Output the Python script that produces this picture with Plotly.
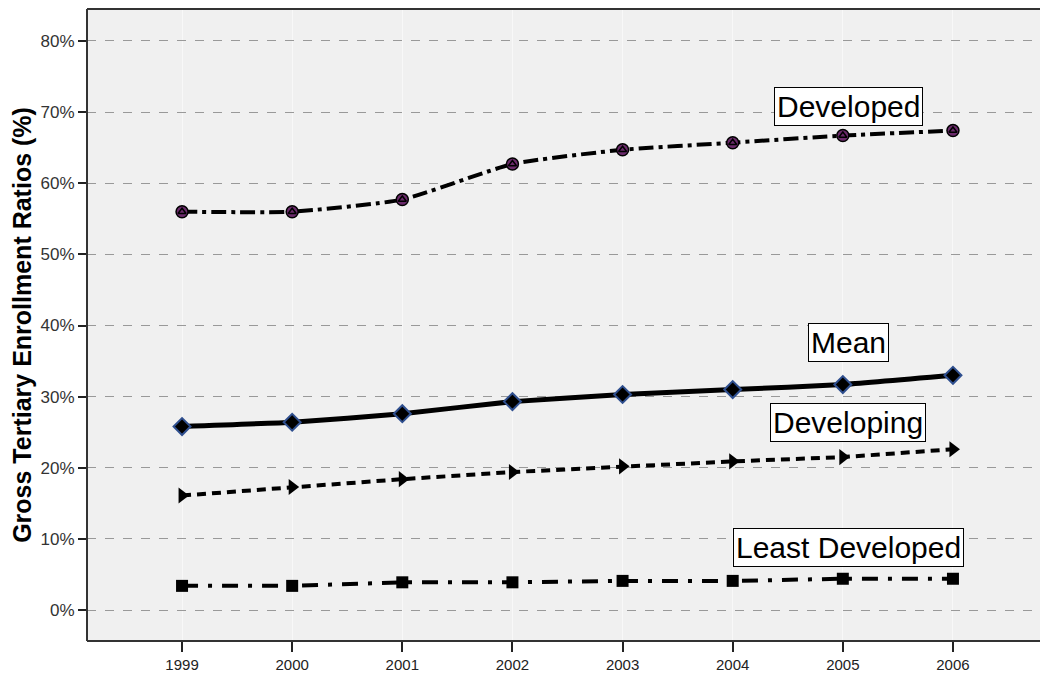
import plotly.graph_objects as go

years = [1999, 2000, 2001, 2002, 2003, 2004, 2005, 2006]
developed = [56.0, 56.0, 57.7, 62.7, 64.7, 65.7, 66.7, 67.4]
mean = [25.8, 26.4, 27.6, 29.3, 30.3, 31.0, 31.7, 33.0]
developing = [16.1, 17.3, 18.4, 19.4, 20.2, 20.9, 21.5, 22.6]
least_developed = [3.4, 3.4, 3.9, 3.9, 4.1, 4.1, 4.4, 4.4]

y_ticks = [0, 10, 20, 30, 40, 50, 60, 70, 80]
y_tick_labels = [f"{v}%" for v in y_ticks]

labels = ["Developed", "Mean", "Developing", "Least Developed"]
label_x = [2005.05, 2005.05, 2005.05, 2005.05]
label_y = [70.8, 37.6, 26.3, 8.8]

fig = go.Figure()

fig.add_trace(go.Scatter(
    x=years, y=developed, mode="lines+markers",
    line=dict(color="black", width=4, dash="15px,5px,4px,5px", shape="spline", smoothing=0.5),
    marker=dict(symbol="circle", size=12, color="#6b2a6b", line=dict(color="black", width=1.5)),
    showlegend=False))
fig.add_trace(go.Scatter(
    x=years, y=developed, mode="markers",
    marker=dict(symbol="triangle-up-open", size=7, color="black", line=dict(color="black", width=1.5)),
    showlegend=False))

fig.add_trace(go.Scatter(
    x=years, y=mean, mode="lines+markers",
    line=dict(color="black", width=5, shape="spline", smoothing=0.4),
    marker=dict(symbol="diamond", size=13, color="black", line=dict(color="#2f4f8f", width=2)),
    showlegend=False))

fig.add_trace(go.Scatter(
    x=years, y=developing, mode="lines+markers",
    line=dict(color="black", width=4, dash="9px,6px"),
    marker=dict(symbol="triangle-right", size=14, color="black"),
    showlegend=False))

fig.add_trace(go.Scatter(
    x=years, y=least_developed, mode="lines+markers",
    line=dict(color="black", width=4, dash="16px,10px,4px,10px"),
    marker=dict(symbol="square", size=12, color="black"),
    showlegend=False))

for t, xv, yv in zip(labels, label_x, label_y):
    fig.add_annotation(
        x=xv, y=yv, text=t, showarrow=False,
        font=dict(family="Liberation Sans, Arial", size=30, color="black"),
        bgcolor="white", bordercolor="black", borderwidth=1, borderpad=2)

# frame (left, top, bottom)
fig.add_shape(type="line", xref="paper", yref="paper", x0=0, x1=0, y0=0, y1=1,
              line=dict(color="#333333", width=2))
fig.add_shape(type="line", xref="paper", yref="paper", x0=0, x1=1, y0=1, y1=1,
              line=dict(color="#333333", width=2))
fig.add_shape(type="line", xref="paper", yref="paper", x0=0, x1=1, y0=0, y1=0,
              line=dict(color="#333333", width=2))

fig.update_layout(
    width=1040, height=669,
    margin=dict(l=79, r=0, t=1, b=36),
    paper_bgcolor="white", plot_bgcolor="#f0f0f0",
    font=dict(family="Liberation Sans, Arial", color="#222222"),
    xaxis=dict(
        range=[1998.137, 2006.863], tickmode="array", tickvals=years,
        ticktext=[str(y) for y in years],
        ticks="outside", ticklen=10, tickwidth=2, tickcolor="#222222",
        tickfont=dict(size=15, color="#222222"),
        showgrid=True, gridcolor="#f8f8f8", gridwidth=1,
        zeroline=False, showline=False),
    yaxis=dict(
        range=[-4.35, 84.49], tickmode="array", tickvals=y_ticks, ticktext=y_tick_labels,
        ticks="outside", ticklen=8, tickwidth=2, tickcolor="#222222",
        tickfont=dict(size=17, color="#333333"),
        showgrid=True, gridcolor="#999999", gridwidth=1, griddash="dash",
        zeroline=False, showline=False,
        title=dict(text="<b>Gross Tertiary Enrollment Ratios (%)</b>",
                   font=dict(size=25, color="black"), standoff=4)),
)

fig.write_html("out.html")
